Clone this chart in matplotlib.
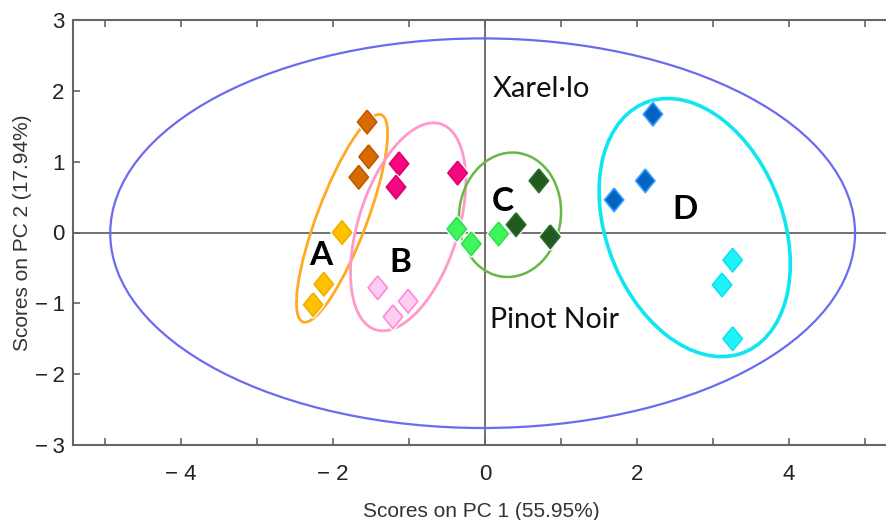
import matplotlib
matplotlib.use("Agg")
import matplotlib.pyplot as plt
import matplotlib.patheffects as pe
from matplotlib import font_manager
from matplotlib.patches import Ellipse
from matplotlib.ticker import FixedLocator

# PCA scores (PC1, PC2)
a_dark_x = [-1.55, -1.53, -1.66]
a_dark_y = [1.56, 1.07, 0.78]
a_light_x = [-1.88, -2.12, -2.26]
a_light_y = [0.00, -0.73, -1.02]
b_dark_x = [-1.13, -1.17, -0.36]
b_dark_y = [0.97, 0.64, 0.84]
b_light_x = [-1.41, -1.01, -1.21]
b_light_y = [-0.78, -0.97, -1.19]
c_light_x = [-0.37, -0.18, 0.18]
c_light_y = [0.05, -0.16, -0.02]
c_dark_x = [0.71, 0.41, 0.86]
c_dark_y = [0.73, 0.11, -0.06]
d_dark_x = [2.21, 2.11, 1.70]
d_dark_y = [1.67, 0.73, 0.46]
d_light_x = [3.26, 3.12, 3.26]
d_light_y = [-0.39, -0.74, -1.50]

# confidence ellipses: centre, width, height, angle
ell_names = ["all", "A", "B", "C", "D"]
ell_center = [(-0.03, -0.01), (-1.88, 0.20), (-1.01, 0.08), (0.33, 0.25), (2.76, 0.07)]
ell_width = [9.8, 3.10, 3.03, 1.34, 3.76]
ell_height = [5.5, 0.66, 1.32, 1.76, 2.34]
ell_angle = [0, 70.7, 74.1, -5, 108.3]
ell_colors = ["#6b6bf0", "#ffaa22", "#ff99cc", "#66b844", "#10e6f0"]
ell_lw = [1.6, 2.0, 2.0, 1.8, 2.6]

group_labels = ["A", "B", "C", "D"]
group_x = [-2.16, -1.11, 0.24, 2.63]
group_y = [-0.32, -0.42, 0.44, 0.32]

x_major = [-4, -2, 0, 2, 4]
x_minor = [-5, -3, -1, 1, 3, 5]
x_ticklabels = ["\u2212 4", "\u2212 2", "0", "2", "4"]
y_major = [-3, -2, -1, 0, 1, 2, 3]
y_ticklabels = ["\u2212\u20093", "\u2212\u20092", "\u2212\u20091", "0", "1", "2", "3"]

# pick a narrow sans if one is installed
names = {f.name for f in font_manager.fontManager.ttflist}
if "Liberation Sans Narrow" in names:
    axfont, tsize, lsize = "Liberation Sans Narrow", 18, 18
else:
    axfont, tsize, lsize = "Liberation Sans", 16, 15

fig = plt.figure(figsize=(8.86, 5.2), dpi=100)
ax = fig.add_axes([73 / 886, 1 - 445 / 520, (890 - 73) / 886, 425 / 520])
ax.set_xlim(-5.42, 5.33)
ax.set_ylim(-3, 3)

gray = "#666666"
ax.axhline(0, color=gray, lw=1.3, zorder=1)
ax.axvline(0, color=gray, lw=1.3, zorder=1)

for c, w, h, ang, col, lw in zip(ell_center, ell_width, ell_height, ell_angle, ell_colors, ell_lw):
    ax.add_patch(Ellipse(c, w, h, angle=ang, fill=False, edgecolor=col, lw=lw, zorder=2))

diamond = [(0, 1), (0.82, 0), (0, -1), (-0.82, 0), (0, 1)]
halo = [pe.withStroke(linewidth=3, foreground="white")]
series = [
    (a_dark_x, a_dark_y, "#d96a00", "#c05a00"),
    (a_light_x, a_light_y, "#ffc000", "#f0b000"),
    (b_dark_x, b_dark_y, "#f5077f", "#e00070"),
    (b_light_x, b_light_y, "#ffccf2", "#ff8ad8"),
    (c_light_x, c_light_y, "#3ef55c", "#30e050"),
    (c_dark_x, c_dark_y, "#1f5a1f", "#2a6a2a"),
    (d_dark_x, d_dark_y, "#0064c0", "#3aa0ff"),
    (d_light_x, d_light_y, "#1ef4f8", "#10e0f0"),
]
for xs, ys, fc, ec in series:
    ax.plot(xs, ys, ls="none", marker=diamond, ms=17, mfc=fc, mec=ec, mew=1.2,
            zorder=3, path_effects=halo)

for lab, x, y in zip(group_labels, group_x, group_y):
    ax.text(x, y, lab, fontsize=24, fontweight="bold", family="Lato",
            ha="center", va="center", color="black", zorder=4)

ax.text(0.105, 1.91, "Xarel·lo", fontsize=21, family="Lato", color="#111111",
        ha="left", va="baseline", zorder=4)
ax.text(0.066, -1.35, "Pinot Noir", fontsize=20.5, family="Lato", color="#111111",
        ha="left", va="baseline", zorder=4)

ax.xaxis.set_major_locator(FixedLocator(x_major))
ax.xaxis.set_minor_locator(FixedLocator(x_minor))
ax.yaxis.set_major_locator(FixedLocator(y_major))
ax.set_xticklabels(x_ticklabels)
ax.set_yticklabels(y_ticklabels)
ax.tick_params(axis="both", which="both", direction="in", length=5, width=1.2,
               color=gray, labelsize=tsize, labelcolor="#222222", top=True)
ax.tick_params(axis="x", which="major", pad=14)
ax.tick_params(axis="y", which="major", pad=6)
for t in ax.get_xticklabels() + ax.get_yticklabels():
    t.set_family(axfont)
for s in ax.spines.values():
    s.set_color(gray)
    s.set_linewidth(1.5)

ax.set_xlabel("Scores on PC 1 (55.95%)", fontsize=lsize, color="#333333",
              family=axfont, labelpad=12)
ax.set_ylabel("Scores on PC 2 (17.94%)", fontsize=lsize, color="#333333",
              family=axfont, labelpad=2)

fig.savefig("out.png", dpi=100)
